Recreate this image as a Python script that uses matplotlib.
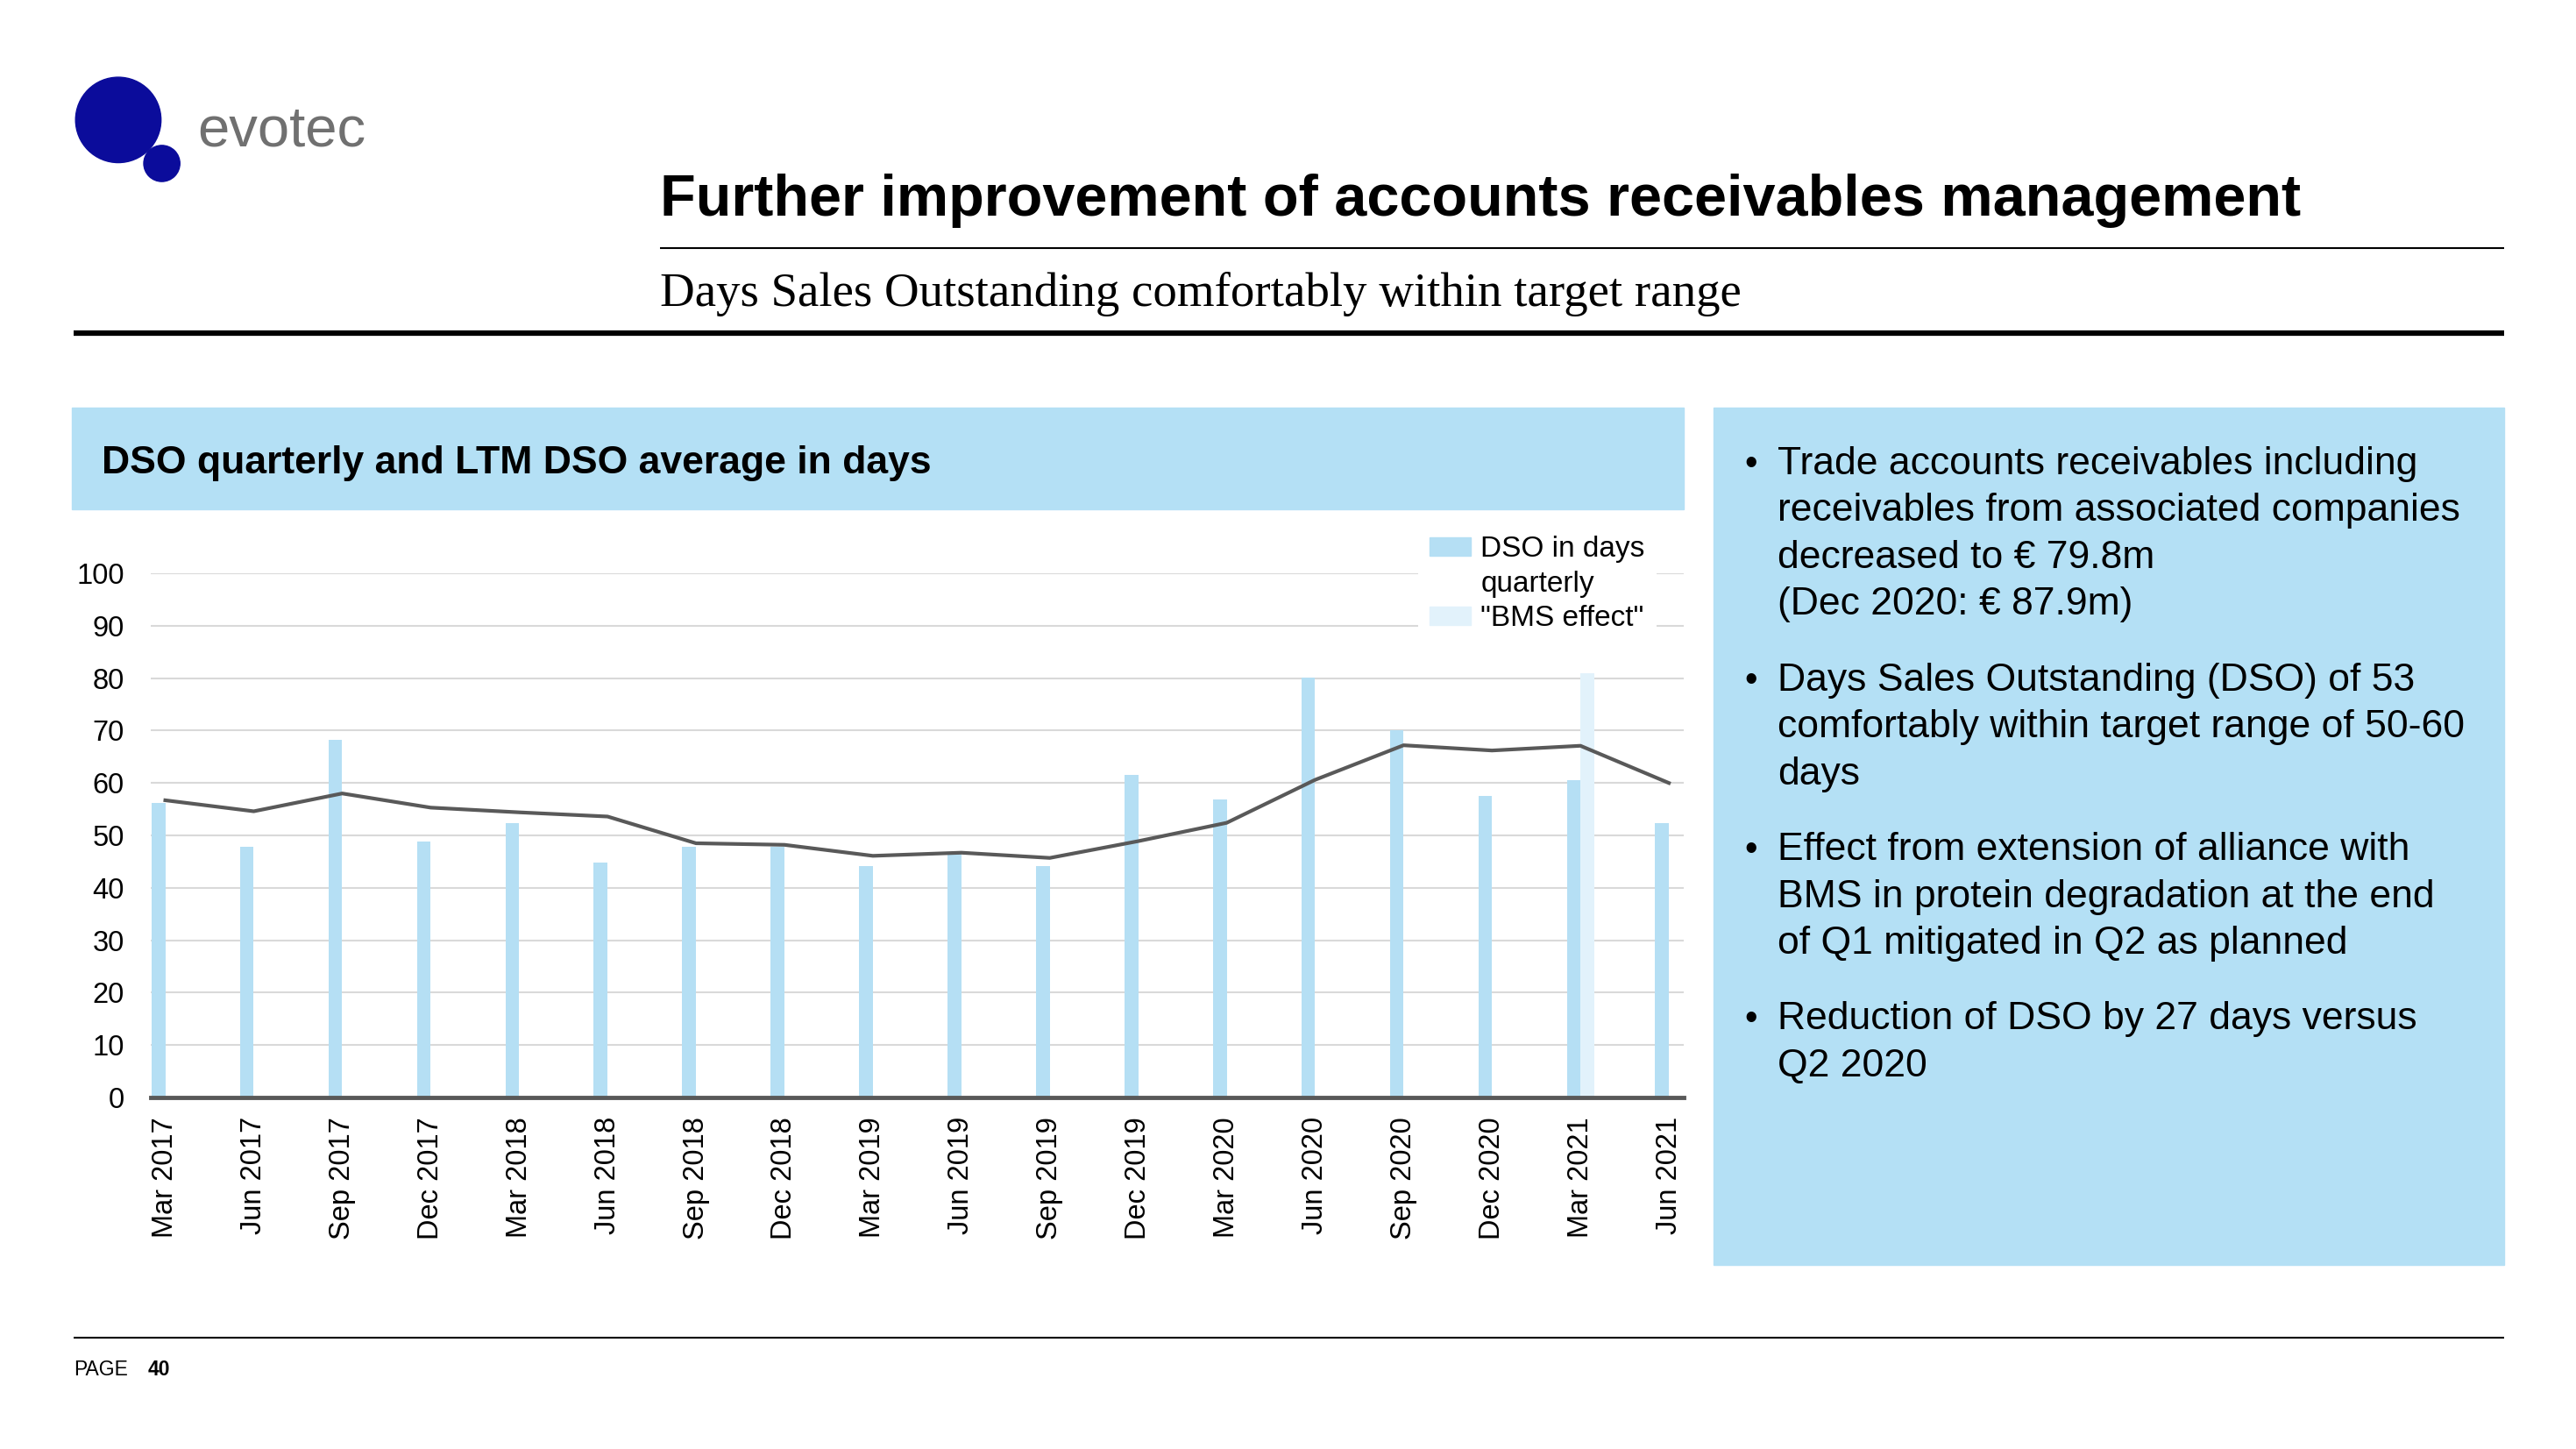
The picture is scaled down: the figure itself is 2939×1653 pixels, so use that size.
import numpy as np
import matplotlib
matplotlib.use("Agg")
import matplotlib.pyplot as plt
from matplotlib.patches import Rectangle, Circle, Patch

# data
quarters = ["Mar 2017", "Jun 2017", "Sep 2017", "Dec 2017", "Mar 2018", "Jun 2018",
            "Sep 2018", "Dec 2018", "Mar 2019", "Jun 2019", "Sep 2019", "Dec 2019",
            "Mar 2020", "Jun 2020", "Sep 2020", "Dec 2020", "Mar 2021", "Jun 2021"]
dso_quarterly = [56.2, 47.8, 68.3, 48.8, 52.3, 44.8, 47.9, 47.9, 44.1, 46.5,
                 44.1, 61.5, 56.8, 80.1, 70.1, 57.5, 60.5, 52.4]
bms_effect = [0, 0, 0, 0, 0, 0, 0, 0, 0, 0, 0, 0, 0, 0, 0, 0, 80.9, 0]
ltm_avg = [56.7, 54.6, 58.0, 55.3, 54.4, 53.6, 48.5, 48.2, 46.1, 46.7,
           45.7, 48.9, 52.4, 60.6, 67.2, 66.2, 67.1, 60.0]
yticks = list(range(0, 101, 10))

bullets = [
    ["Trade accounts receivables including", "receivables from associated companies",
     "decreased to € 79.8m", "(Dec 2020: € 87.9m)"],
    ["Days Sales Outstanding (DSO) of 53", "comfortably within target range of 50-60", "days"],
    ["Effect from extension of alliance with", "BMS in protein degradation at the end",
     "of Q1 mitigated in Q2 as planned"],
    ["Reduction of DSO by 27 days versus", "Q2 2020"],
]
bullet_tops = [280, 412, 515, 618]

plt.rcParams['font.family'] = ['Liberation Sans', 'DejaVu Sans']

box_blue = "#b4e0f5"
bar_blue = "#b5dff4"
bms_blue = "#e2f2fb"
dark = "#595959"

W, H = 1568, 882
fig = plt.figure(figsize=(29.39, 16.53), dpi=100)

# page overlay in slide pixel units (shrunk image coords)
bg = fig.add_axes([0, 0, 1, 1])
bg.set_xlim(0, W)
bg.set_ylim(H, 0)
bg.axis('off')

# logo
bg.add_patch(Circle((72, 73), 26, color="#0b0c9b"))
bg.add_patch(Circle((98.5, 99.5), 11, color="#0b0c9b"))
bg.text(120, 80, "evotec", fontsize=47, color="#707070", va='center', ha='left')

bg.text(402, 131, "Further improvement of accounts receivables management",
        fontsize=48, fontweight='bold', va='baseline', ha='left')
bg.plot([402, 1524], [151, 151], color='black', lw=1.5, solid_capstyle='butt')
bg.text(402, 186, "Days Sales Outstanding comfortably within target range",
        fontsize=39.5, family=['Liberation Serif', 'DejaVu Serif'], va='baseline', ha='left')
bg.plot([45, 1524], [203, 203], color='black', lw=4.5, solid_capstyle='butt')

bg.add_patch(Rectangle((44, 248), 981, 62, color=box_blue))
bg.text(62, 288, "DSO quarterly and LTM DSO average in days", fontsize=32,
        fontweight='bold', va='baseline', ha='left')

bg.add_patch(Rectangle((1043, 248), 481, 522, color=box_blue))
for lines, top in zip(bullets, bullet_tops):
    bg.text(1066, top + 8.5, "•", fontsize=30, va='baseline', ha='center')
    for i, line in enumerate(lines):
        bg.text(1082, top + 8.5 + i * 28.5, line, fontsize=32, va='baseline', ha='left')

bg.plot([45, 1524], [814, 814], color='black', lw=1.5, solid_capstyle='butt')
bg.text(45, 837, "PAGE", fontsize=16.5, va='baseline', ha='left')
bg.text(90, 837, "40", fontsize=16.5, fontweight='bold', va='baseline', ha='left')

# chart
ax = fig.add_axes([92 / W, 1 - 668 / H, (1025 - 92) / W, (668 - 349) / H])
ax.patch.set_alpha(0)
x = np.arange(len(quarters))
bw = 0.155
ax.bar(x, dso_quarterly, width=-bw, align='edge', color=bar_blue, zorder=2)
ax.bar(x, bms_effect, width=bw, align='edge', color=bms_blue, zorder=2)
ax.plot(x, ltm_avg, color=dark, lw=3, zorder=3)

ax.set_xlim(-0.16, len(quarters) - 1 + 0.17)
ax.set_ylim(0, 100)
ax.set_yticks(yticks)
ax.set_xticks(x)
ax.set_xticklabels(quarters, rotation=90, fontsize=23.5)
ax.tick_params(axis='y', labelsize=23.5, length=0, pad=22)
ax.tick_params(axis='x', length=0, pad=16)
ax.grid(axis='y', color="#d9d9d9", lw=1.5, zorder=0)
ax.set_axisbelow(True)
for s in ['top', 'right', 'left']:
    ax.spines[s].set_visible(False)
ax.spines['bottom'].set_color(dark)
ax.spines['bottom'].set_linewidth(3.5)
ax.spines['bottom'].set_zorder(4)

# legend: second line of the first label carries no key
handles = [Patch(color=bar_blue), Patch(color='none'), Patch(color=bms_blue)]
leg = ax.legend(handles, ["DSO in days", "quarterly", '"BMS effect"'],
                loc='upper left', bbox_to_anchor=(863 / W, 1 - 319 / H),
                bbox_transform=fig.transFigure, fontsize=24, frameon=True,
                facecolor='white', edgecolor='none', framealpha=1, fancybox=False,
                handlelength=1.4, handleheight=0.6, handletextpad=0.35,
                labelspacing=0.25, borderpad=0.4, borderaxespad=0)
leg.set_zorder(5)

fig.savefig("out.png", dpi=100)
